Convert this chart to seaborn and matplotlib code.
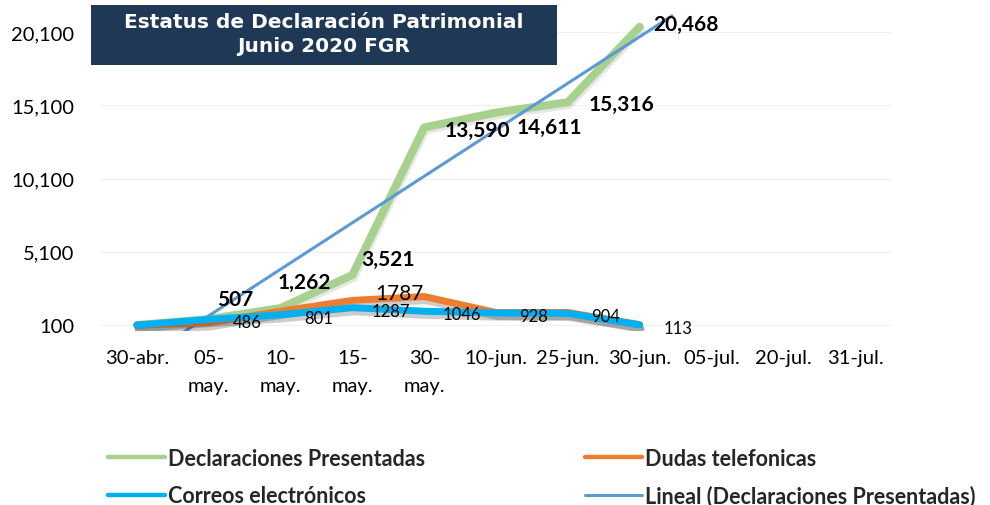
import matplotlib
matplotlib.use("Agg")
import matplotlib.pyplot as plt
import matplotlib.patheffects as pe
from matplotlib.patches import Rectangle
import numpy as np
import seaborn as sns

# --------------------------------------
# Datos de la grafica
# --------------------------------------
fechas = ["30-abr.", "05-\nmay.", "10-\nmay.", "15-\nmay.", "30-\nmay.",
          "10-jun.", "25-jun.", "30-jun.", "05-jul.", "20-jul.", "31-jul."]
declaraciones = [100, 507, 1262, 3521, 13590, 14611, 15316, 20468]
dudas = [100, 250, 1050, 1787, 2050, 960, 960, 130]
correos = [100, 486, 801, 1287, 1046, 928, 904, 113]
etq_declaraciones = ["", "507", "1,262", "3,521", "13,590", "14,611", "15,316", "20,468"]
etq_correos = ["", "486", "801", "1287", "1046", "928", "904", "113"]
etq_dudas = {3: "1787"}
y_ticks = [100, 5100, 10100, 15100, 20100]

VERDE = "#a9d18e"
NARANJA = "#ed7d31"
CYAN = "#00b0f0"
AZUL = "#5b9bd5"

sns.set_theme(style="white")
plt.rcParams['font.family'] = ['Lato', 'DejaVu Sans']

fig = plt.figure(figsize=(9.9, 5.06), dpi=100)
ax = fig.add_axes([0.102, 0.344, 0.798, 0.631])

sombra = [pe.SimpleLineShadow(offset=(1.0, -3.0), shadow_color="k", alpha=0.22), pe.Normal()]
sombra_suave = [pe.SimpleLineShadow(offset=(1.0, -2.0), shadow_color="k", alpha=0.10), pe.Normal()]

x = np.arange(len(declaraciones))
sns.lineplot(x=x, y=declaraciones, ax=ax, color=VERDE, lw=5.8, zorder=2,
             label="Declaraciones Presentadas", path_effects=sombra_suave,
             solid_capstyle="round", solid_joinstyle="round")

# tendencia lineal, como la de Excel (con un poco de pronostico)
coef = np.polyfit(x, declaraciones, 1)
xt = np.array([0, len(x) - 1 + 0.45])
sns.lineplot(x=xt, y=np.polyval(coef, xt), ax=ax, color=AZUL, lw=2.2, zorder=3,
             label="Lineal (Declaraciones Presentadas)")

sns.lineplot(x=x, y=dudas, ax=ax, color=NARANJA, lw=5, zorder=4,
             label="Dudas telefonicas", path_effects=sombra,
             solid_capstyle="round", solid_joinstyle="round")
sns.lineplot(x=x, y=correos, ax=ax, color=CYAN, lw=5, zorder=5,
             label="Correos electrónicos", path_effects=sombra,
             solid_capstyle="round", solid_joinstyle="round")

# etiquetas de datos (desplazadas como en el original)
desp_verde = [(0, 0), (26, 20), (24, 26), (36, 16), (53, -2), (53, -14), (54, -2), (46, 3)]
for i, t in enumerate(etq_declaraciones):
    if t:
        ax.annotate(t, (x[i], declaraciones[i]), xytext=desp_verde[i], textcoords="offset pixels",
                    ha="center", va="center", fontsize=15, fontweight="bold", color="black", zorder=6)
for i, t in enumerate(etq_correos):
    if t:
        ax.annotate(t, (x[i], correos[i]), xytext=(38, -3), textcoords="offset pixels",
                    ha="center", va="center", fontsize=12, color="black", zorder=6)
for i, t in etq_dudas.items():
    ax.annotate(t, (x[i], dudas[i]), xytext=(47, 7), textcoords="offset pixels",
                ha="center", va="center", fontsize=15, color="black", zorder=6)

ax.set_xlim(-0.5, len(fechas) - 0.5)
ax.set_ylim(-300, 21500)
ax.set_xticks(range(len(fechas)))
ax.set_xticklabels(fechas, fontsize=14.5, linespacing=1.8)
ax.set_yticks(y_ticks)
ax.set_yticklabels([f"{v:,}" for v in y_ticks], fontsize=14.5)
ax.tick_params(axis="both", length=0, colors="black")
ax.tick_params(axis="y", pad=19)
ax.tick_params(axis="x", pad=13)
ax.yaxis.grid(True, color="#f0f0f0", lw=0.8)
ax.xaxis.grid(False)
ax.set_xlabel("")
ax.set_ylabel("")
sns.despine(ax=ax, left=True, bottom=True)

# leyenda
h, l = ax.get_legend_handles_labels()
orden = ["Declaraciones Presentadas", "Correos electrónicos", "Dudas telefonicas",
         "Lineal (Declaraciones Presentadas)"]
hh = [h[l.index(n)] for n in orden]
ax.get_legend().remove()
leg = fig.legend(hh, orden, ncol=2, loc="upper left", bbox_to_anchor=(108 / 990, 1 - 449 / 506),
                 frameon=False, prop=dict(weight="bold", size=15.5), handlelength=2.65,
                 handletextpad=0.15, columnspacing=7.4, labelspacing=0.75,
                 borderpad=0, borderaxespad=0)
for ln in leg.get_lines():
    ln.set_path_effects([])
    ln.set_solid_capstyle("round")
    ln.set_linewidth(3.2 if ln.get_color() != AZUL else 2.2)

# titulo en recuadro
fig.add_artist(Rectangle((91 / 990, 1 - 66 / 506), 466 / 990, 60 / 506,
                         transform=fig.transFigure, facecolor="#1f3856", edgecolor="none"))
fig.text(324 / 990, 1 - 22 / 506, "Estatus de Declaración Patrimonial", color="white",
         ha="center", va="center", fontsize=14.5, fontweight="bold", family="DejaVu Sans")
fig.text(324 / 990, 1 - 47 / 506, "Junio 2020 FGR", color="white",
         ha="center", va="center", fontsize=14.5, fontweight="bold", family="DejaVu Sans")

fig.savefig("out.png", dpi=100)
